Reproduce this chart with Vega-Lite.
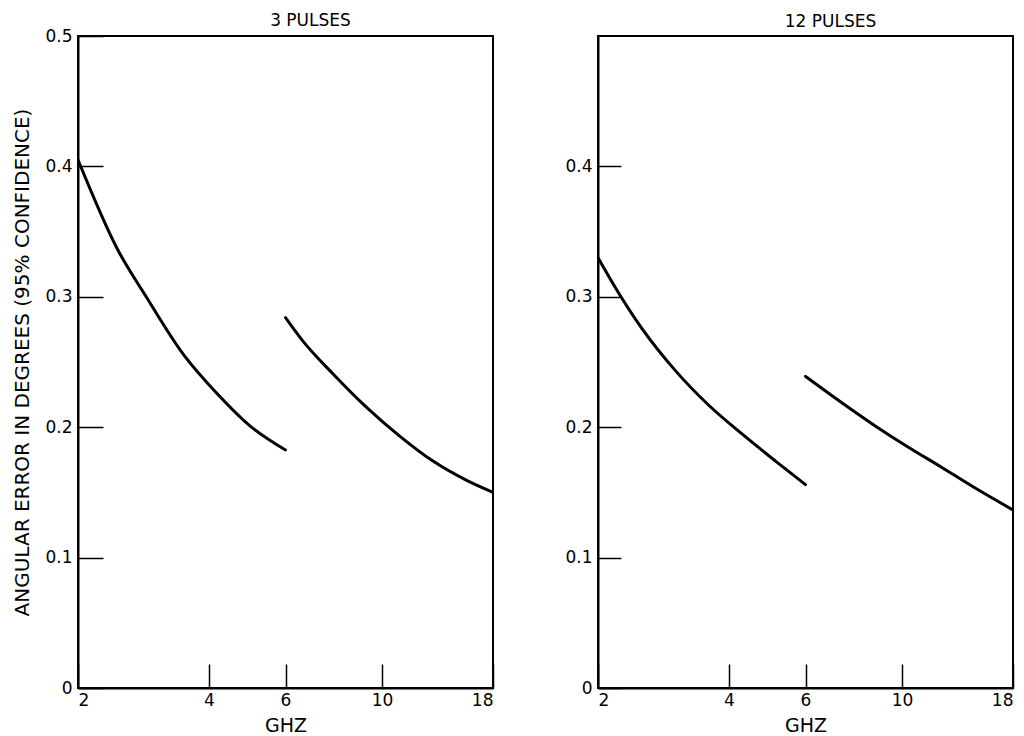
{
  "$schema": "https://vega.github.io/schema/vega-lite/v6.json",
  "background": "white",
  "padding": {"left": 11, "top": 11, "right": 5, "bottom": 3},
  "bounds": "flush",
  "spacing": 105,
  "config": {
    "font": "DejaVu Sans",
    "view": {"stroke": "black", "strokeWidth": 2},
    "axis": {
      "domainColor": "black", "domainWidth": 2, "tickColor": "black", "tickWidth": 1.5,
      "labelColor": "black", "titleColor": "black", "labelFont": "DejaVu Sans", "titleFont": "DejaVu Sans",
      "labelFontSize": 17, "titleFontSize": 19, "titleFontWeight": "normal", "grid": false
    },
    "title": {"fontSize": 17, "fontWeight": "normal", "color": "black", "font": "DejaVu Sans"}
  },
  "datasets": {
    "curves": [
      {"panel": "3", "seg": "a", "f": 2.0, "err": 0.405},
      {"panel": "3", "seg": "a", "f": 2.46, "err": 0.337},
      {"panel": "3", "seg": "a", "f": 2.87, "err": 0.300},
      {"panel": "3", "seg": "a", "f": 3.49, "err": 0.256},
      {"panel": "3", "seg": "a", "f": 4.17, "err": 0.226},
      {"panel": "3", "seg": "a", "f": 4.97, "err": 0.201},
      {"panel": "3", "seg": "a", "f": 6.0, "err": 0.1825},
      {"panel": "3", "seg": "b", "f": 6.0, "err": 0.284},
      {"panel": "3", "seg": "b", "f": 6.58, "err": 0.266},
      {"panel": "3", "seg": "b", "f": 7.71, "err": 0.241},
      {"panel": "3", "seg": "b", "f": 9.23, "err": 0.215},
      {"panel": "3", "seg": "b", "f": 11.0, "err": 0.193},
      {"panel": "3", "seg": "b", "f": 13.1, "err": 0.174},
      {"panel": "3", "seg": "b", "f": 15.7, "err": 0.159},
      {"panel": "3", "seg": "b", "f": 18.0, "err": 0.150},
      {"panel": "12", "seg": "a", "f": 2.0, "err": 0.330},
      {"panel": "12", "seg": "a", "f": 2.24, "err": 0.302},
      {"panel": "12", "seg": "a", "f": 2.52, "err": 0.276},
      {"panel": "12", "seg": "a", "f": 3.02, "err": 0.243},
      {"panel": "12", "seg": "a", "f": 3.59, "err": 0.217},
      {"panel": "12", "seg": "a", "f": 4.28, "err": 0.195},
      {"panel": "12", "seg": "a", "f": 5.12, "err": 0.174},
      {"panel": "12", "seg": "a", "f": 6.0, "err": 0.156},
      {"panel": "12", "seg": "b", "f": 6.0, "err": 0.239},
      {"panel": "12", "seg": "b", "f": 7.26, "err": 0.219},
      {"panel": "12", "seg": "b", "f": 8.68, "err": 0.201},
      {"panel": "12", "seg": "b", "f": 10.3, "err": 0.185},
      {"panel": "12", "seg": "b", "f": 12.3, "err": 0.1695},
      {"panel": "12", "seg": "b", "f": 14.7, "err": 0.1535},
      {"panel": "12", "seg": "b", "f": 18.0, "err": 0.1365}
    ]
  },
  "hconcat": [
    {
      "width": 415, "height": 652,
      "title": {"text": "3 PULSES", "dx": 25, "offset": -3},
      "data": {"name": "curves"},
      "transform": [{"filter": "datum.panel === '3'"}],
      "mark": {"type": "line", "color": "black", "strokeWidth": 3, "strokeCap": "round", "interpolate": "monotone", "clip": true},
      "encoding": {
        "x": {"field": "f", "type": "quantitative", "scale": {"type": "log", "domain": [2, 18], "nice": false},
          "axis": {"title": "GHZ", "values": [2, 4, 6, 10, 18], "format": "d", "tickSize": -24, "labelPadding": 28, "titlePadding": 8}},
        "y": {"field": "err", "type": "quantitative", "scale": {"domain": [0, 0.5], "nice": false},
          "axis": {"title": "ANGULAR ERROR IN DEGREES (95% CONFIDENCE)", "titleFontSize": 20, "values": [0, 0.1, 0.2, 0.3, 0.4, 0.5], "format": ".1~f", "tickSize": -25, "labelPadding": 31, "titlePadding": 12}},
        "detail": {"field": "seg"}
      }
    },
    {
      "width": 415, "height": 652,
      "title": {"text": "12 PULSES", "dx": 25, "offset": 5},
      "data": {"name": "curves"},
      "transform": [{"filter": "datum.panel === '12'"}],
      "mark": {"type": "line", "color": "black", "strokeWidth": 3, "strokeCap": "round", "interpolate": "monotone", "clip": true},
      "encoding": {
        "x": {"field": "f", "type": "quantitative", "scale": {"type": "log", "domain": [2, 18], "nice": false},
          "axis": {"title": "GHZ", "values": [2, 4, 6, 10, 18], "format": "d", "tickSize": -24, "labelPadding": 28, "titlePadding": 8}},
        "y": {"field": "err", "type": "quantitative", "scale": {"domain": [0, 0.5], "nice": false},
          "axis": {"title": null, "values": [0, 0.1, 0.2, 0.3, 0.4], "format": ".1~f", "tickSize": -23, "labelPadding": 29}},
        "detail": {"field": "seg"}
      }
    }
  ]
}
